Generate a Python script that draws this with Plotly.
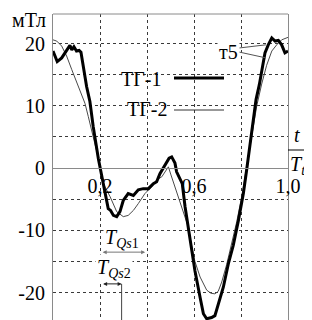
import plotly.graph_objects as go

# ---- data ----
tg1_x = [0, 0.018, 0.037, 0.051, 0.072, 0.08, 0.089, 0.10, 0.111, 0.119, 0.132, 0.143, 0.157,
         0.171, 0.193, 0.2, 0.214, 0.221, 0.228, 0.235, 0.245, 0.257, 0.271, 0.285, 0.299, 0.32,
         0.342, 0.363, 0.384, 0.406, 0.427, 0.441, 0.455, 0.477, 0.494, 0.505, 0.519, 0.526,
         0.55, 0.562, 0.583, 0.604, 0.626, 0.64, 0.654, 0.675, 0.689, 0.703, 0.725, 0.746,
         0.767, 0.789, 0.81, 0.824, 0.846, 0.864, 0.878, 0.888, 0.902, 0.916, 0.931, 0.945,
         0.959, 0.973, 0.987, 1.0]
tg1_y = [18.8, 17.1, 17.7, 18.5, 19.7, 19.0, 19.5, 18.8, 18.9, 18.6, 15.3, 13.1, 10.7,
         6.7, 1.5, 0.2, -2.5, -4.1, -5.0, -6.5, -6.8, -7.6, -7.8, -7.0, -5.2, -4.1,
         -4.4, -3.5, -3.3, -3.3, -2.5, -2.2, -0.9, 0.5, 1.6, 1.8, 0.8, -0.6,
         -2.5, -6.2, -11.1, -16.5, -20.8, -23.4, -24.2, -24.0, -23.7, -21.8, -19.1, -15.4,
         -12.4, -8.4, -4.1, -0.3, 6.1, 11.0, 13.4, 15.8, 18.5, 19.8, 20.9, 20.4,
         20.5, 19.8, 18.5, 18.8]

tg2_x = [0, 0.016, 0.037, 0.058, 0.08, 0.101, 0.122, 0.136, 0.15, 0.165, 0.185, 0.2, 0.214,
         0.243, 0.271, 0.299, 0.32, 0.342, 0.363, 0.391, 0.42, 0.441, 0.463, 0.477, 0.491,
         0.502, 0.519, 0.54, 0.562, 0.576, 0.59, 0.604, 0.626, 0.654, 0.672, 0.689, 0.703,
         0.718, 0.739, 0.76, 0.782, 0.803, 0.817, 0.83, 0.846, 0.867, 0.888, 0.909, 0.931,
         0.952, 0.973, 0.994, 1.0]
tg2_y = [20.6, 20.4, 19.6, 18.0, 15.8, 13.7, 11.8, 10.4, 8.3, 6.1, 3.0, 0.5, -2.5,
         -4.6, -7.0, -7.8, -7.6, -6.8, -5.7, -4.1, -3.0, -1.9, -1.4, -0.6, 0.2,
         -1.1, -3.0, -5.2, -7.8, -9.5, -12.5, -15.0, -17.5, -19.6, -20.1, -20.2, -19.8,
         -18.3, -15.5, -12.2, -8.6, -4.6, -1.4, 1.0, 5.0, 10.0, 13.5, 16.5, 18.8,
         19.8, 20.6, 20.9, 21.0]

series_names = ["ТГ-1", "ТГ-2"]
x_tickvals = [0.2, 0.4, 0.6, 0.8, 1.0]
x_ticktext = ["0,2", "", "0,6", "", "1,0"]
y_tickvals = [-20, -15, -10, -5, 0, 5, 10, 15, 20]
y_ticktext = ["-20", "", "-10", "", "0", "", "10", "", "20"]
y_range = [-24.4, 24.75]
tqs1_span = [0.205, 0.392]
tqs1_level = -13.5
tqs2_span = [0.207, 0.292]
tqs2_level = -18.6
t5_points = [(0.906, 19.8), (0.906, 17.7)]

# ---- layout geometry (page has an 8px body margin) ----
OFF = 8
W, H = 312 - OFF, 320 - OFF
L, R, T, B = 53 - OFF, 24, 14 - OFF, 0
PW, PH = W - L - R, H - T - B
def pxx(x):
    return (x - OFF - L) / PW
def pyy(y):
    return (H - B - (y - OFF)) / PH

FONT = "Liberation Serif"
GRID = "#3a3a3a"
FRAME = "#8a8a8a"

fig = go.Figure()
fig.add_trace(go.Scatter(x=tg2_x, y=tg2_y, mode="lines", name=series_names[1],
                         line=dict(color="#4a4a4a", width=1)))
fig.add_trace(go.Scatter(x=tg1_x, y=tg1_y, mode="lines", name=series_names[0],
                         line=dict(color="black", width=3)))

zero_pos = (0 - y_range[0]) / (y_range[1] - y_range[0])

fig.update_layout(
    template="none",
    width=W, height=H,
    margin=dict(l=L, r=R, t=T, b=B, pad=0),
    paper_bgcolor="white", plot_bgcolor="white",
    showlegend=False,
    font=dict(family=FONT, size=20, color="black"),
    xaxis=dict(range=[0, 1], tickvals=x_tickvals, ticktext=x_ticktext,
               showgrid=True, gridcolor=GRID, griddash="dot", gridwidth=1,
               anchor="free", position=zero_pos,
               showline=True, linecolor=FRAME, linewidth=1,
               zeroline=False, ticks="", ticklabelstandoff=0,
               tickfont=dict(family=FONT, size=20, color="black")),
    yaxis=dict(range=y_range, tickvals=y_tickvals, ticktext=y_ticktext,
               showgrid=True, gridcolor=GRID, griddash="dot", gridwidth=1,
               showline=True, mirror=True, linecolor=FRAME, linewidth=1,
               zeroline=False, ticks="", ticklabelstandoff=3,
               tickfont=dict(family=FONT, size=20, color="black")),
)

shapes = [
    dict(type="line", xref="paper", yref="paper", x0=0, x1=1, y0=1, y1=1,
         line=dict(color=FRAME, width=1)),
    dict(type="rect", xref="paper", yref="paper", x0=pxx(117), x1=pxx(229),
         y0=pyy(122), y1=pyy(64), fillcolor="white", line=dict(width=0), layer="between"),
    dict(type="line", xref="paper", yref="paper", x0=pxx(174), x1=pxx(224),
         y0=pyy(78), y1=pyy(78), line=dict(color="black", width=3)),
    dict(type="line", xref="paper", yref="paper", x0=pxx(174), x1=pxx(224),
         y0=pyy(110), y1=pyy(110), line=dict(color="#333", width=1)),
    dict(type="line", xref="paper", yref="paper", x0=pxx(288), x1=pxx(307),
         y0=pyy(150), y1=pyy(150), line=dict(color="black", width=1)),
    dict(type="line", xref="x", yref="y", x0=tqs2_span[1], x1=tqs2_span[1],
         y0=tqs2_level, y1=y_range[0], line=dict(color="#444", width=1)),
]
# t5 leader lines: from the label to the curves
for (xv, yv), (sx, sy) in zip(t5_points, [(239, 48), (239, 52)]):
    shapes.append(dict(type="line", xref="paper", yref="paper",
                       x0=pxx(sx), y0=pyy(sy), x1=xv,
                       y1=(yv - y_range[0]) / (y_range[1] - y_range[0]),
                       line=dict(color="#555", width=1)))
fig.update_layout(shapes=shapes)

ann = []
def txt(text, x, y, size=20, bg=None):
    d = dict(text=text, xref="paper", yref="paper", x=pxx(x), y=pyy(y),
             xanchor="center", yanchor="middle", showarrow=False,
             font=dict(family=FONT, size=size, color="black"))
    if bg:
        d["bgcolor"] = bg
    ann.append(d)

txt("мТл", 29, 20)
txt(series_names[0], 141, 79)
txt(series_names[1], 147, 109)
txt("т5", 228, 52, bg="white")
txt("<i>t</i>", 297, 135)
txt("<i>T<sub>t</sub></i>", 298, 165)
txt("<i>T</i><sub><i>Qs</i>1</sub>", 122, 238, bg="white")
txt("<i>T</i><sub><i>Qs</i>2</sub>", 114, 268, bg="white")

# T_Qs double-headed arrows
for span, lvl, col in [(tqs1_span, tqs1_level, "#777"), (tqs2_span, tqs2_level, "#222")]:
    ann.append(dict(x=span[1], y=lvl, ax=span[0], ay=lvl, xref="x", yref="y",
                    axref="x", ayref="y", text="", showarrow=True,
                    arrowhead=2, startarrowhead=2, arrowside="end+start",
                    arrowsize=0.8, startarrowsize=0.8, arrowwidth=1, arrowcolor=col))

fig.update_layout(annotations=ann)
fig.write_html("out.html")
